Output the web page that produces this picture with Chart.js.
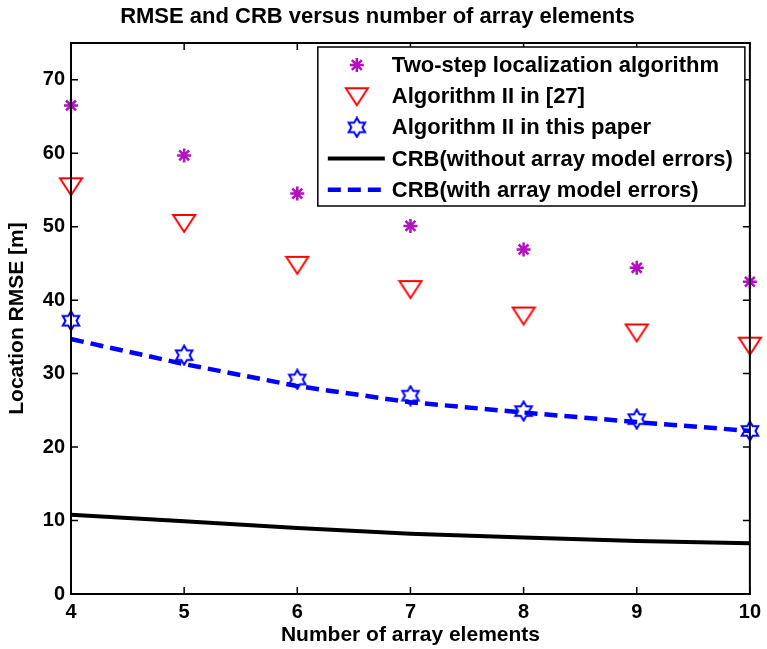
<!DOCTYPE html>
<html>
<head>
<meta charset="utf-8">
<script src="https://cdn.jsdelivr.net/npm/chart.js@4/dist/chart.umd.min.js"></script>
<style>
  html, body { margin: 0; padding: 0; background: #fff; }
  #wrap { width: 767px; height: 649px; }
</style>
</head>
<body>
<div id="wrap"><canvas id="rmseChart" width="767" height="649"></canvas></div>
<script>
// datos
const elements = [4, 5, 6, 7, 8, 9, 10];
const twoStep = [66.5, 59.7, 54.5, 50.1, 46.9, 44.4, 42.5];
const alg27 = [55.5, 50.5, 44.8, 41.5, 37.9, 35.6, 33.8];
const algThis = [37.2, 32.5, 29.2, 27.0, 24.9, 23.8, 22.2];
const crbNoErr = [10.8, 9.9, 9.0, 8.2, 7.7, 7.2, 6.9];
const crbErr = [34.7, 31.3, 28.3, 26.1, 24.7, 23.4, 22.2];
const xTicks = [4, 5, 6, 7, 8, 9, 10];
const yTicks = [0, 10, 20, 30, 40, 50, 60, 70];

const FONT = '"Liberation Sans", Arial, sans-serif';

function pts(vals) {
    return elements.map(function(x, i) { return { x: x, y: vals[i] }; });
}

// marcador triángulo invertido (hueco)
function makeTriangle(color) {
    const c = document.createElement('canvas');
    c.width = 26; c.height = 22;
    const g = c.getContext('2d');
    g.strokeStyle = color;
    g.lineWidth = 2;
    g.beginPath();
    g.moveTo(2, 3);
    g.lineTo(24, 3);
    g.lineTo(13, 20);
    g.closePath();
    g.stroke();
    return c;
}

// marcador hexagrama
function makeHexagram(color) {
    const c = document.createElement('canvas');
    c.width = 22; c.height = 22;
    const g = c.getContext('2d');
    g.strokeStyle = color;
    g.lineWidth = 2;
    g.beginPath();
    for (let k = 0; k < 12; k++) {
        const r = (k % 2 === 0) ? 9.5 : 5.5;
        const a = -Math.PI / 2 + k * Math.PI / 6;
        const px = 11 + r * Math.cos(a), py = 11 + r * Math.sin(a);
        if (k === 0) g.moveTo(px, py); else g.lineTo(px, py);
    }
    g.closePath();
    g.stroke();
    return c;
}

const triMarker = makeTriangle('#ff0000');
const hexMarker = makeHexagram('#0000ff');

// marco con marcas hacia dentro (estilo MATLAB) + leyenda en caja
const framePlugin = {
    id: 'frame',
    afterDatasetsDraw(chart) {
        const ctx = chart.ctx;
        const a = chart.chartArea;
        const xs = chart.scales.x, ys = chart.scales.y;
        ctx.save();
        ctx.strokeStyle = '#000';
        ctx.lineWidth = 2;
        ctx.strokeRect(a.left, a.top, a.right - a.left, a.bottom - a.top);
        ctx.lineWidth = 1.5;
        const tl = 7;
        xTicks.forEach(function(v) {
            const px = xs.getPixelForValue(v);
            ctx.beginPath();
            ctx.moveTo(px, a.bottom); ctx.lineTo(px, a.bottom - tl);
            ctx.moveTo(px, a.top); ctx.lineTo(px, a.top + tl);
            ctx.stroke();
        });
        yTicks.forEach(function(v) {
            const py = ys.getPixelForValue(v);
            ctx.beginPath();
            ctx.moveTo(a.left, py); ctx.lineTo(a.left + tl, py);
            ctx.moveTo(a.right, py); ctx.lineTo(a.right - tl, py);
            ctx.stroke();
        });

        // leyenda
        const sets = chart.data.datasets;
        ctx.font = 'bold 22px ' + FONT;
        let maxW = 0;
        sets.forEach(function(d) { maxW = Math.max(maxW, ctx.measureText(d.label).width); });
        const lead = 74, rowH = 31.2;
        const boxW = lead + maxW + 12;
        const boxH = rowH * sets.length + 3;
        const bx = a.right - 5 - boxW, by = a.top + 4;
        ctx.fillStyle = '#fff';
        ctx.fillRect(bx, by, boxW, boxH);
        ctx.strokeStyle = '#000';
        ctx.lineWidth = 1.5;
        ctx.strokeRect(bx, by, boxW, boxH);
        sets.forEach(function(d, i) {
            const cy = by + 18 + i * rowH;
            const cx = bx + 39;
            if (d.showLine) {
                ctx.save();
                ctx.strokeStyle = d.borderColor;
                ctx.lineWidth = d.borderWidth;
                ctx.setLineDash(d.borderDash || []);
                ctx.beginPath();
                ctx.moveTo(bx + 10, cy); ctx.lineTo(bx + 67, cy);
                ctx.stroke();
                ctx.restore();
            } else {
                ctx.save();
                ctx.strokeStyle = d.pointBorderColor;
                ctx.fillStyle = d.pointBorderColor;
                ctx.lineWidth = d.pointBorderWidth;
                Chart.helpers.drawPoint(ctx, {
                    pointStyle: d.pointStyle,
                    radius: d.pointRadius,
                    rotation: 0,
                    borderWidth: d.pointBorderWidth
                }, cx, cy);
                ctx.restore();
            }
            ctx.fillStyle = '#000';
            ctx.textBaseline = 'middle';
            ctx.textAlign = 'left';
            ctx.fillText(d.label, bx + lead, cy + 1);
        });
        ctx.restore();
    }
};

function createRmseChart() {
    const ctx = document.getElementById('rmseChart').getContext('2d');
    return new Chart(ctx, {
        type: 'line',
        data: {
            datasets: [{
                label: 'Two-step localization algorithm',
                data: pts(twoStep),
                showLine: false,
                pointStyle: 'star',
                pointRadius: 7,
                pointBorderWidth: 2.5,
                pointBorderColor: '#b40fc3',
                pointBackgroundColor: '#b40fc3',
                clip: false,
                order: 5
            }, {
                label: 'Algorithm II in [27]',
                data: pts(alg27),
                showLine: false,
                pointStyle: triMarker,
                pointRadius: 11,
                pointBorderWidth: 2,
                pointBorderColor: '#ff0000',
                clip: false,
                order: 4
            }, {
                label: 'Algorithm II in this paper',
                data: pts(algThis),
                showLine: false,
                pointStyle: hexMarker,
                pointRadius: 10,
                pointBorderWidth: 2,
                pointBorderColor: '#0000ff',
                clip: false,
                order: 3
            }, {
                label: 'CRB(without array model errors)',
                data: pts(crbNoErr),
                showLine: true,
                borderColor: '#000000',
                borderWidth: 4,
                pointRadius: 0,
                clip: false,
                order: 2
            }, {
                label: 'CRB(with array model errors)',
                data: pts(crbErr),
                showLine: true,
                borderColor: '#0000ff',
                borderWidth: 4.5,
                borderDash: [13, 7],
                pointRadius: 0,
                clip: false,
                order: 1
            }]
        },
        options: {
            responsive: false,
            animation: false,
            layout: { padding: { left: 0, right: 12, top: 0, bottom: 0 } },
            plugins: {
                legend: { display: false },
                tooltip: { enabled: false },
                title: {
                    display: true,
                    text: 'RMSE and CRB versus number of array elements',
                    color: '#000',
                    font: { family: FONT, size: 22, weight: 'bold', lineHeight: 1.2 },
                    padding: { top: 4, bottom: 12.6 }
                }
            },
            scales: {
                x: {
                    type: 'linear',
                    min: 4,
                    max: 10,
                    grid: { display: false, drawTicks: false },
                    border: { display: false },
                    afterBuildTicks: function(scale) {
                        scale.ticks = xTicks.map(function(v) { return { value: v }; });
                    },
                    afterFit: function(scale) { scale.height = 55; },
                    ticks: {
                        color: '#000',
                        padding: 6,
                        maxRotation: 0,
                        font: { family: FONT, size: 20, weight: 'bold' }
                    },
                    title: {
                        display: true,
                        text: 'Number of array elements',
                        color: '#000',
                        padding: { top: 0, bottom: 1 },
                        font: { family: FONT, size: 21, weight: 'bold', lineHeight: 1.2 }
                    }
                },
                y: {
                    min: 0,
                    max: 75,
                    grid: { display: false, drawTicks: false },
                    border: { display: false },
                    afterBuildTicks: function(scale) {
                        scale.ticks = yTicks.map(function(v) { return { value: v }; });
                    },
                    afterFit: function(scale) { scale.width = 71; },
                    ticks: {
                        color: '#000',
                        padding: 6,
                        font: { family: FONT, size: 20, weight: 'bold' }
                    },
                    title: {
                        display: true,
                        text: 'Location RMSE [m]',
                        color: '#000',
                        padding: { top: 5, bottom: 0 },
                        font: { family: FONT, size: 21, weight: 'bold', lineHeight: 1.2 }
                    }
                }
            }
        },
        plugins: [framePlugin]
    });
}

createRmseChart();
</script>
</body>
</html>
